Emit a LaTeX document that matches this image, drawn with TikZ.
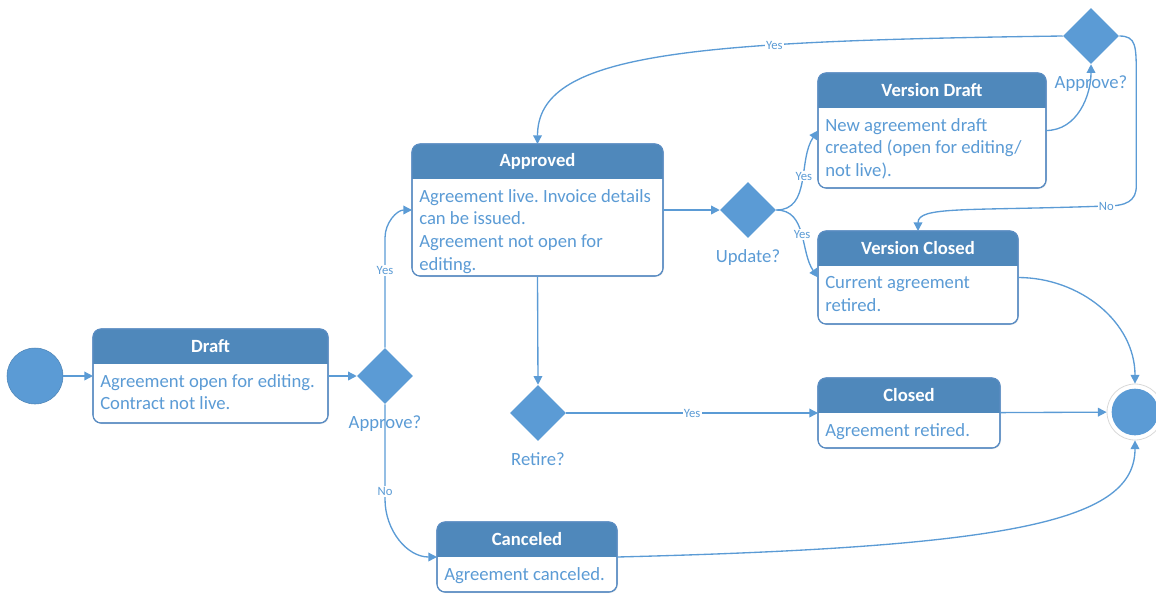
\documentclass[tikz,border=0pt]{standalone}
\usepackage{fontspec}
\setmainfont{Carlito}
\frenchspacing
\usepackage{xcolor}
\definecolor{cLine}{HTML}{5B9BD5}
\definecolor{cHead}{HTML}{4F88BB}
\definecolor{cEdge}{HTML}{5A8CC2}
\definecolor{cRing}{HTML}{D9D9D9}
\usepackage{tikz}
\usetikzlibrary{positioning,arrows.meta,shapes.geometric,calc,shadows}
\tikzset{
  state-box/.style={draw=cEdge,line width=0.8pt,fill=white,rounded corners=6pt,
    inner sep=0pt,outer sep=0pt,
    drop shadow={opacity=0.12,shadow xshift=0.8pt,shadow yshift=-0.8pt}},
  state-title/.style={text=white,font=\fontsize{14}{16}\selectfont\bfseries},
  state-text/.style={text=cLine,align=left,inner sep=0pt,
    font=\fontsize{14}{17}\selectfont},
  decision/.style={diamond,fill=cLine,draw=none,minimum size=42pt,inner sep=0pt},
  decision-label/.style={text=cLine,font=\fontsize{14}{16}\selectfont,
    inner sep=1pt,label distance=7.5pt},
  init-node/.style={circle,fill=cLine,draw=cLine!85!black,line width=0.4pt,
    minimum size=42pt,inner sep=0pt},
  final-ring/.style={circle,draw=cRing,line width=0.6pt,fill=white,
    minimum size=42pt,inner sep=0pt},
  final-dot/.style={circle,fill=cLine,minimum size=35pt,inner sep=0pt},
  arrow/.style={-{Triangle[length=6.5pt,width=6.5pt]},line width=1pt,draw=cLine},
  edge-label/.style={text=cLine,fill=white,inner sep=1pt,
    font=\fontsize{9.5}{10}\selectfont},
}
\begin{document}
\begin{tikzpicture}[x=0.75pt,y=0.75pt]
  \useasboundingbox (0,0) rectangle (1156,-594);
  % states
  \foreach \name/\x/\y/\w/\h/\title/\body in {
    draft/93/329/235/94/Draft/{Agreement open for editing.\\Contract not live.},
    approved/412/144/251/132/Approved/{Agreement live. Invoice details\\can be issued.\\Agreement not open for\\editing.},
    vdraft/818/73/228/115/Version Draft/{New agreement draft\\created (open for editing/\\not live).},
    vclosed/818/231/200/93/Version Closed/{Current agreement\\retired.},
    closed/818/378/182/70/Closed/{Agreement retired.},
    canceled/437/522/180/70/Canceled/{Agreement canceled.}%
  }{
    \node[state-box,minimum width={\w*0.75pt},minimum height={\h*0.75pt},
      anchor=north west] (\name) at (\x,-\y) {};
    \begin{scope}
      \clip[rounded corners=6pt] (\name.north west) rectangle (\name.south east);
      \fill[cHead] (\name.north west) rectangle ($(\name.north east)+(0,-35)$);
    \end{scope}
    \draw[cEdge,line width=0.8pt,rounded corners=6pt]
      (\name.north west) rectangle (\name.south east);
    \node[state-title] (\name-title) at ($(\name.north)+(0,-17.5)$) {\title};
    \node[state-text,anchor=north west] (\name-body)
      at ($(\name.north west)+(7,-45)$) {\body};
  }
  % decisions
  \foreach \name/\x/\y/\txt in {apr1/385/376/Approve?, update/748/210/Update?,
      retire/538/413/Retire?, apr2/1091/36/Approve?}
    \node[decision,label={[decision-label]below:\txt}] (\name) at (\x,-\y) {};
  % start and end
  \node[init-node] (start) at (35,-376) {};
  \node[final-ring] (finish) at (1135,-412) {};
  \node[final-dot] (finish-dot) at (finish) {};
  % transitions
  \draw[arrow] (start) -- (draft);
  \draw[arrow] (draft) -- (apr1);
  \draw[arrow] (apr1.north) -- node[edge-label,pos=0.7]{Yes} ++(0,110)
    to[out=90,in=180] (approved.west);
  \draw[arrow] (apr1.south) -- node[edge-label,pos=0.92]{No} ++(0,-95)
    to[out=-90,in=180] (canceled.west);
  \draw[arrow] (approved.south) -- (retire.north);
  \draw[arrow] (retire) -- node[edge-label]{Yes} (closed);
  \draw[arrow] (approved.east) -- (update.west);
  \draw[arrow] (update.east) to[out=0,in=235] node[edge-label,pos=0.55]{Yes}
    (vdraft.west);
  \draw[arrow] (update.east) to[out=0,in=125] node[edge-label,pos=0.5]{Yes}
    (vclosed.west);
  \draw[arrow] (vdraft.east) to[out=0,in=-90] (apr2.south);
  \draw[arrow] (apr2.west) .. controls +(-380,-5) and +(0,90) ..
    node[edge-label,pos=0.31]{Yes} (approved.north);
  \draw[arrow] (apr2.east) .. controls +(17,0) and +(0,30) .. ++(17,-40)
    -- ++(0,-110) .. controls +(0,-15) and +(20,0) .. ++(-30,-20)
    node[edge-label]{No}
    .. controls +(-140,-5) and +(0,25) .. (vclosed.north);
  \draw[arrow] (vclosed.east) to[out=0,in=90] (finish.north);
  \draw[arrow] (closed) -- (finish);
  \draw[arrow] (canceled.east) .. controls +(400,10) and +(0,-80) .. (finish.south);
\end{tikzpicture}
\end{document}
